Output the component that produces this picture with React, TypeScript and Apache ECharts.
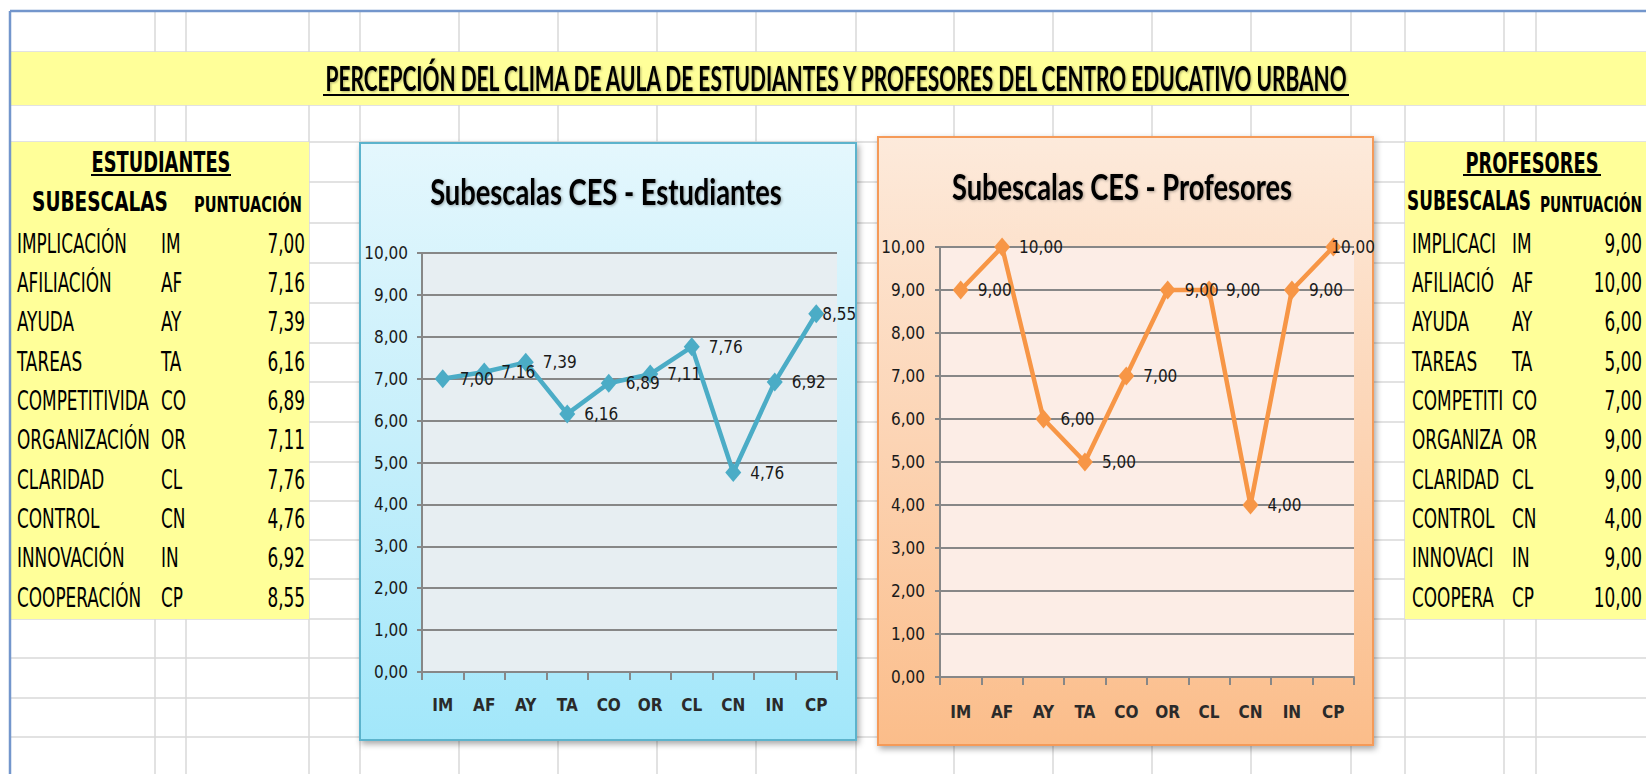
import React, { useEffect, useRef } from 'react';
import * as echarts from 'echarts';

// ---------------- data ----------------
const codigos = ['IM', 'AF', 'AY', 'TA', 'CO', 'OR', 'CL', 'CN', 'IN', 'CP'];
const subescalas = ['IMPLICACIÓN', 'AFILIACIÓN', 'AYUDA', 'TAREAS', 'COMPETITIVIDAD', 'ORGANIZACIÓN', 'CLARIDAD', 'CONTROL', 'INNOVACIÓN', 'COOPERACIÓN'];
const puntEstudiantes = [7.0, 7.16, 7.39, 6.16, 6.89, 7.11, 7.76, 4.76, 6.92, 8.55];
const puntProfesores = [9.0, 10.0, 6.0, 5.0, 7.0, 9.0, 9.0, 4.0, 9.0, 10.0];
const yMin = 0;
const yMax = 10;
const yStep = 1;
const tituloGeneral = 'PERCEPCIÓN DEL CLIMA DE AULA DE ESTUDIANTES Y PROFESORES DEL CENTRO EDUCATIVO URBANO';
const tituloEst = 'Subescalas CES - Estudiantes';
const tituloProf = 'Subescalas CES - Profesores';
const tablaTitulos = ['ESTUDIANTES', 'PROFESORES'];
const cabeceras = ['SUBESCALAS', 'PUNTUACIÓN'];

const fmt = (v: number) => v.toFixed(2).replace('.', ',');

export default function App() {
  const ref = useRef<HTMLDivElement>(null);

  useEffect(() => {
    const el = ref.current!;
    const chart = echarts.init(el, undefined, { renderer: 'svg' });
    const ctx = document.createElement('canvas').getContext('2d')!;
    const has = (f: string) => {
      const s = 'mmmmmmmmmmlliiIIWW0123456789';
      ctx.font = '40px monospace';
      const a = ctx.measureText(s).width;
      ctx.font = `40px "${f}", monospace`;
      const b = ctx.measureText(s).width;
      return Math.abs(a - b) > 0.5;
    };
    const NARROW = ['Liberation Sans Narrow', 'DejaVu Sans Condensed', 'Roboto'].find(has) || 'sans-serif';
    const TITLE = has('Lato') ? 'Lato' : 'sans-serif';
    const measure = (t: string, size: number, fam: string, weight = 'normal') => {
      ctx.font = `${weight} ${size}px "${fam}"`;
      return ctx.measureText(t).width;
    };
    const fit = (t: string, size: number, fam: string, weight: string, target: number) =>
      target / measure(t, size, fam, weight);

    const txt = (
      t: string, x: number, y: number, size: number, fam: string, weight: string,
      sx: number, align = 'left', extra: any = {}
    ) => ({
      type: 'text', x, y, scaleX: sx, z: 20,
      style: {
        text: t, fontSize: size, fontFamily: fam, fontWeight: weight, fill: '#000',
        align, textAlign: align, verticalAlign: 'middle', textVerticalAlign: 'middle', ...extra,
      },
    });
    const line = (x1: number, y1: number, x2: number, y2: number, stroke: string, w: number, z = -20) => ({
      type: 'line', z, shape: { x1, y1, x2, y2 }, style: { stroke, lineWidth: w },
    });

    const graphics: any[] = [];
    // spreadsheet grid
    const gv = [155, 186, 309, 360, 459, 558, 657, 756, 856, 954, 1053, 1152, 1251, 1351, 1405, 1504, 1536];
    const gh = [52, 105, 142, 182, 223, 263, 303, 343, 382, 422, 462, 501, 540, 579, 619, 658, 698, 737];
    gv.forEach((x) => graphics.push(line(x, 11, x, 774, '#d9d9d9', 1.5)));
    gh.forEach((y) => graphics.push(line(10, y, 1646, y, '#d9d9d9', 1.5)));
    graphics.push(line(10, 11, 1646, 11, '#7396cc', 2.5, -12));
    graphics.push(line(10, 11, 10, 774, '#7396cc', 2.5, -12));
    // yellow areas
    const yellow = '#ffff99';
    graphics.push({ type: 'rect', z: -15, shape: { x: 11, y: 52, width: 1635, height: 53 }, style: { fill: yellow } });
    graphics.push({ type: 'rect', z: -15, shape: { x: 11, y: 142, width: 298, height: 477 }, style: { fill: yellow } });
    graphics.push({ type: 'rect', z: -15, shape: { x: 1405, y: 142, width: 241, height: 477 }, style: { fill: yellow } });
    // chart boxes
    graphics.push({
      type: 'rect', z: -10, shape: { x: 360, y: 143, width: 496, height: 597 },
      style: {
        fill: { type: 'linear', x: 0, y: 0, x2: 0, y2: 1, colorStops: [
          { offset: 0, color: '#e4f7fd' }, { offset: 0.5, color: '#c6effb' }, { offset: 1, color: '#a2e7fa' }] },
        stroke: '#5cb3cc', lineWidth: 2,
        shadowBlur: 6, shadowColor: 'rgba(0,0,0,0.35)', shadowOffsetX: 2, shadowOffsetY: 3,
      },
    });
    graphics.push({
      type: 'rect', z: -10, shape: { x: 878, y: 137, width: 495, height: 608 },
      style: {
        fill: { type: 'linear', x: 0, y: 0, x2: 0, y2: 1, colorStops: [
          { offset: 0, color: '#fdeadb' }, { offset: 0.5, color: '#fcd4b4' }, { offset: 1, color: '#fbbd8a' }] },
        stroke: '#f59a58', lineWidth: 2,
        shadowBlur: 6, shadowColor: 'rgba(0,0,0,0.35)', shadowOffsetX: 2, shadowOffsetY: 3,
      },
    });

    // main title
    const sMain = fit(tituloGeneral, 35, TITLE, 'bold', 1026);
    graphics.push(txt(tituloGeneral, 836, 78, 35, TITLE, 'bold', sMain, 'center',
      { textShadowColor: 'rgba(0,0,0,0.3)', textShadowBlur: 2, textShadowOffsetX: 1, textShadowOffsetY: 1 }));
    graphics.push(line(323, 95, 1349, 95, '#000', 2, 20));

    // chart titles
    const shadow = { textShadowColor: 'rgba(0,0,0,0.35)', textShadowBlur: 3, textShadowOffsetX: 1, textShadowOffsetY: 1 };
    graphics.push(txt(tituloEst, 606, 191, 37, TITLE, 'bold', fit(tituloEst, 37, TITLE, 'bold', 352), 'center', shadow));
    graphics.push(txt(tituloProf, 1122, 186, 37, TITLE, 'bold', fit(tituloProf, 37, TITLE, 'bold', 340), 'center', shadow));

    // tables
    const sTT = fit(tablaTitulos[0], 29, NARROW, 'bold', 139);
    const sHdr = fit(cabeceras[0], 27, NARROW, 'bold', 136);
    const sPun = fit(cabeceras[1], 22, NARROW, 'bold', 108);
    const sRow = fit(subescalas[0], 27, NARROW, 'normal', 110);

    // Estudiantes
    graphics.push(txt(tablaTitulos[0], 161, 162, 29, NARROW, 'bold', sTT, 'center'));
    graphics.push(line(91, 175, 231, 175, '#000', 2, 20));
    graphics.push(txt(cabeceras[0], 100, 202, 27, NARROW, 'bold', sHdr, 'center'));
    graphics.push(txt(cabeceras[1], 248, 205, 22, NARROW, 'bold', sPun, 'center'));
    // Profesores
    graphics.push(txt(tablaTitulos[1], 1532, 163, 29, NARROW, 'bold', sTT, 'center'));
    graphics.push(line(1463, 175, 1601, 175, '#000', 2, 20));
    graphics.push(txt(cabeceras[0], 1469, 200, 27, NARROW, 'bold', fit(cabeceras[0], 27, NARROW, 'bold', 124), 'center'));
    graphics.push(txt(cabeceras[1], 1540, 204, 22, NARROW, 'bold', fit(cabeceras[1], 22, NARROW, 'bold', 102), 'left'));

    subescalas.forEach((name, i) => {
      const y = 243 + i * 39.3;
      const trunc = (w: number) => ({ width: w / sRow, overflow: 'truncate', ellipsis: '' });
      graphics.push(txt(name, 17, y, 27, NARROW, 'normal', sRow, 'left', trunc(139)));
      graphics.push(txt(codigos[i], 161, y, 27, NARROW, 'normal', sRow, 'left'));
      graphics.push(txt(fmt(puntEstudiantes[i]), 305, y, 27, NARROW, 'normal', sRow, 'right'));
      graphics.push(txt(name, 1412, y, 27, NARROW, 'normal', sRow, 'left', trunc(94)));
      graphics.push(txt(codigos[i], 1512, y, 27, NARROW, 'normal', sRow, 'left'));
      graphics.push(txt(fmt(puntProfesores[i]), 1642, y, 27, NARROW, 'normal', sRow, 'right'));
    });

    const axisGray = '#878787';
    const mkX = (gridIndex: number, margin: number) => ({
      type: 'category', gridIndex, data: codigos, boundaryGap: true,
      axisLine: { show: true, lineStyle: { color: axisGray, width: 2 } },
      axisTick: { show: true, length: 8, lineStyle: { color: axisGray, width: 2 } },
      axisLabel: { margin, color: '#2a2a2a', fontFamily: NARROW, fontSize: 17, fontWeight: 'bold' },
      splitLine: { show: false },
    });
    const mkY = (gridIndex: number, margin: number) => ({
      type: 'value', gridIndex, min: yMin, max: yMax, interval: yStep,
      axisLine: { show: true, lineStyle: { color: axisGray, width: 2 } },
      axisTick: { show: true, length: 5, lineStyle: { color: axisGray, width: 2 } },
      splitLine: { show: true, lineStyle: { color: axisGray, width: 2 } },
      axisLabel: { margin, formatter: (v: number) => fmt(v), color: '#1a1a1a', fontFamily: NARROW, fontSize: 17 },
    });
    const mkSeries = (data: number[], color: string, idx: number, lastDist: number) => ({
      type: 'line', xAxisIndex: idx, yAxisIndex: idx, z: 5,
      data: data.map((v, i) => (i === data.length - 1 ? { value: v, label: { distance: lastDist } } : v)),
      symbol: 'diamond', symbolSize: [16, 19],
      lineStyle: { color, width: 4.5 },
      itemStyle: { color },
      label: {
        show: true, position: 'right', distance: 9,
        formatter: (p: any) => fmt(p.value), fontFamily: NARROW, fontSize: 17, color: '#1a1a1a',
      },
    });

    chart.setOption({
      animation: false,
      backgroundColor: '#ffffff',
      grid: [
        { left: 422, top: 253, width: 415, height: 419, show: true, backgroundColor: '#e7eef2', borderWidth: 0 },
        { left: 940, top: 247, width: 414, height: 430, show: true, backgroundColor: '#fcede6', borderWidth: 0 },
      ],
      xAxis: [mkX(0, 24), mkX(1, 26)],
      yAxis: [mkY(0, 14), mkY(1, 15)],
      series: [
        mkSeries(puntEstudiantes, '#4bacc6', 0, -2),
        mkSeries(puntProfesores, '#f79646', 1, -10),
      ],
      graphic: { elements: graphics },
    });

    return () => chart.dispose();
  }, []);

  return <div ref={ref} style={{ position: 'absolute', left: 0, top: 0, width: 1646, height: 774 }} />;
}
